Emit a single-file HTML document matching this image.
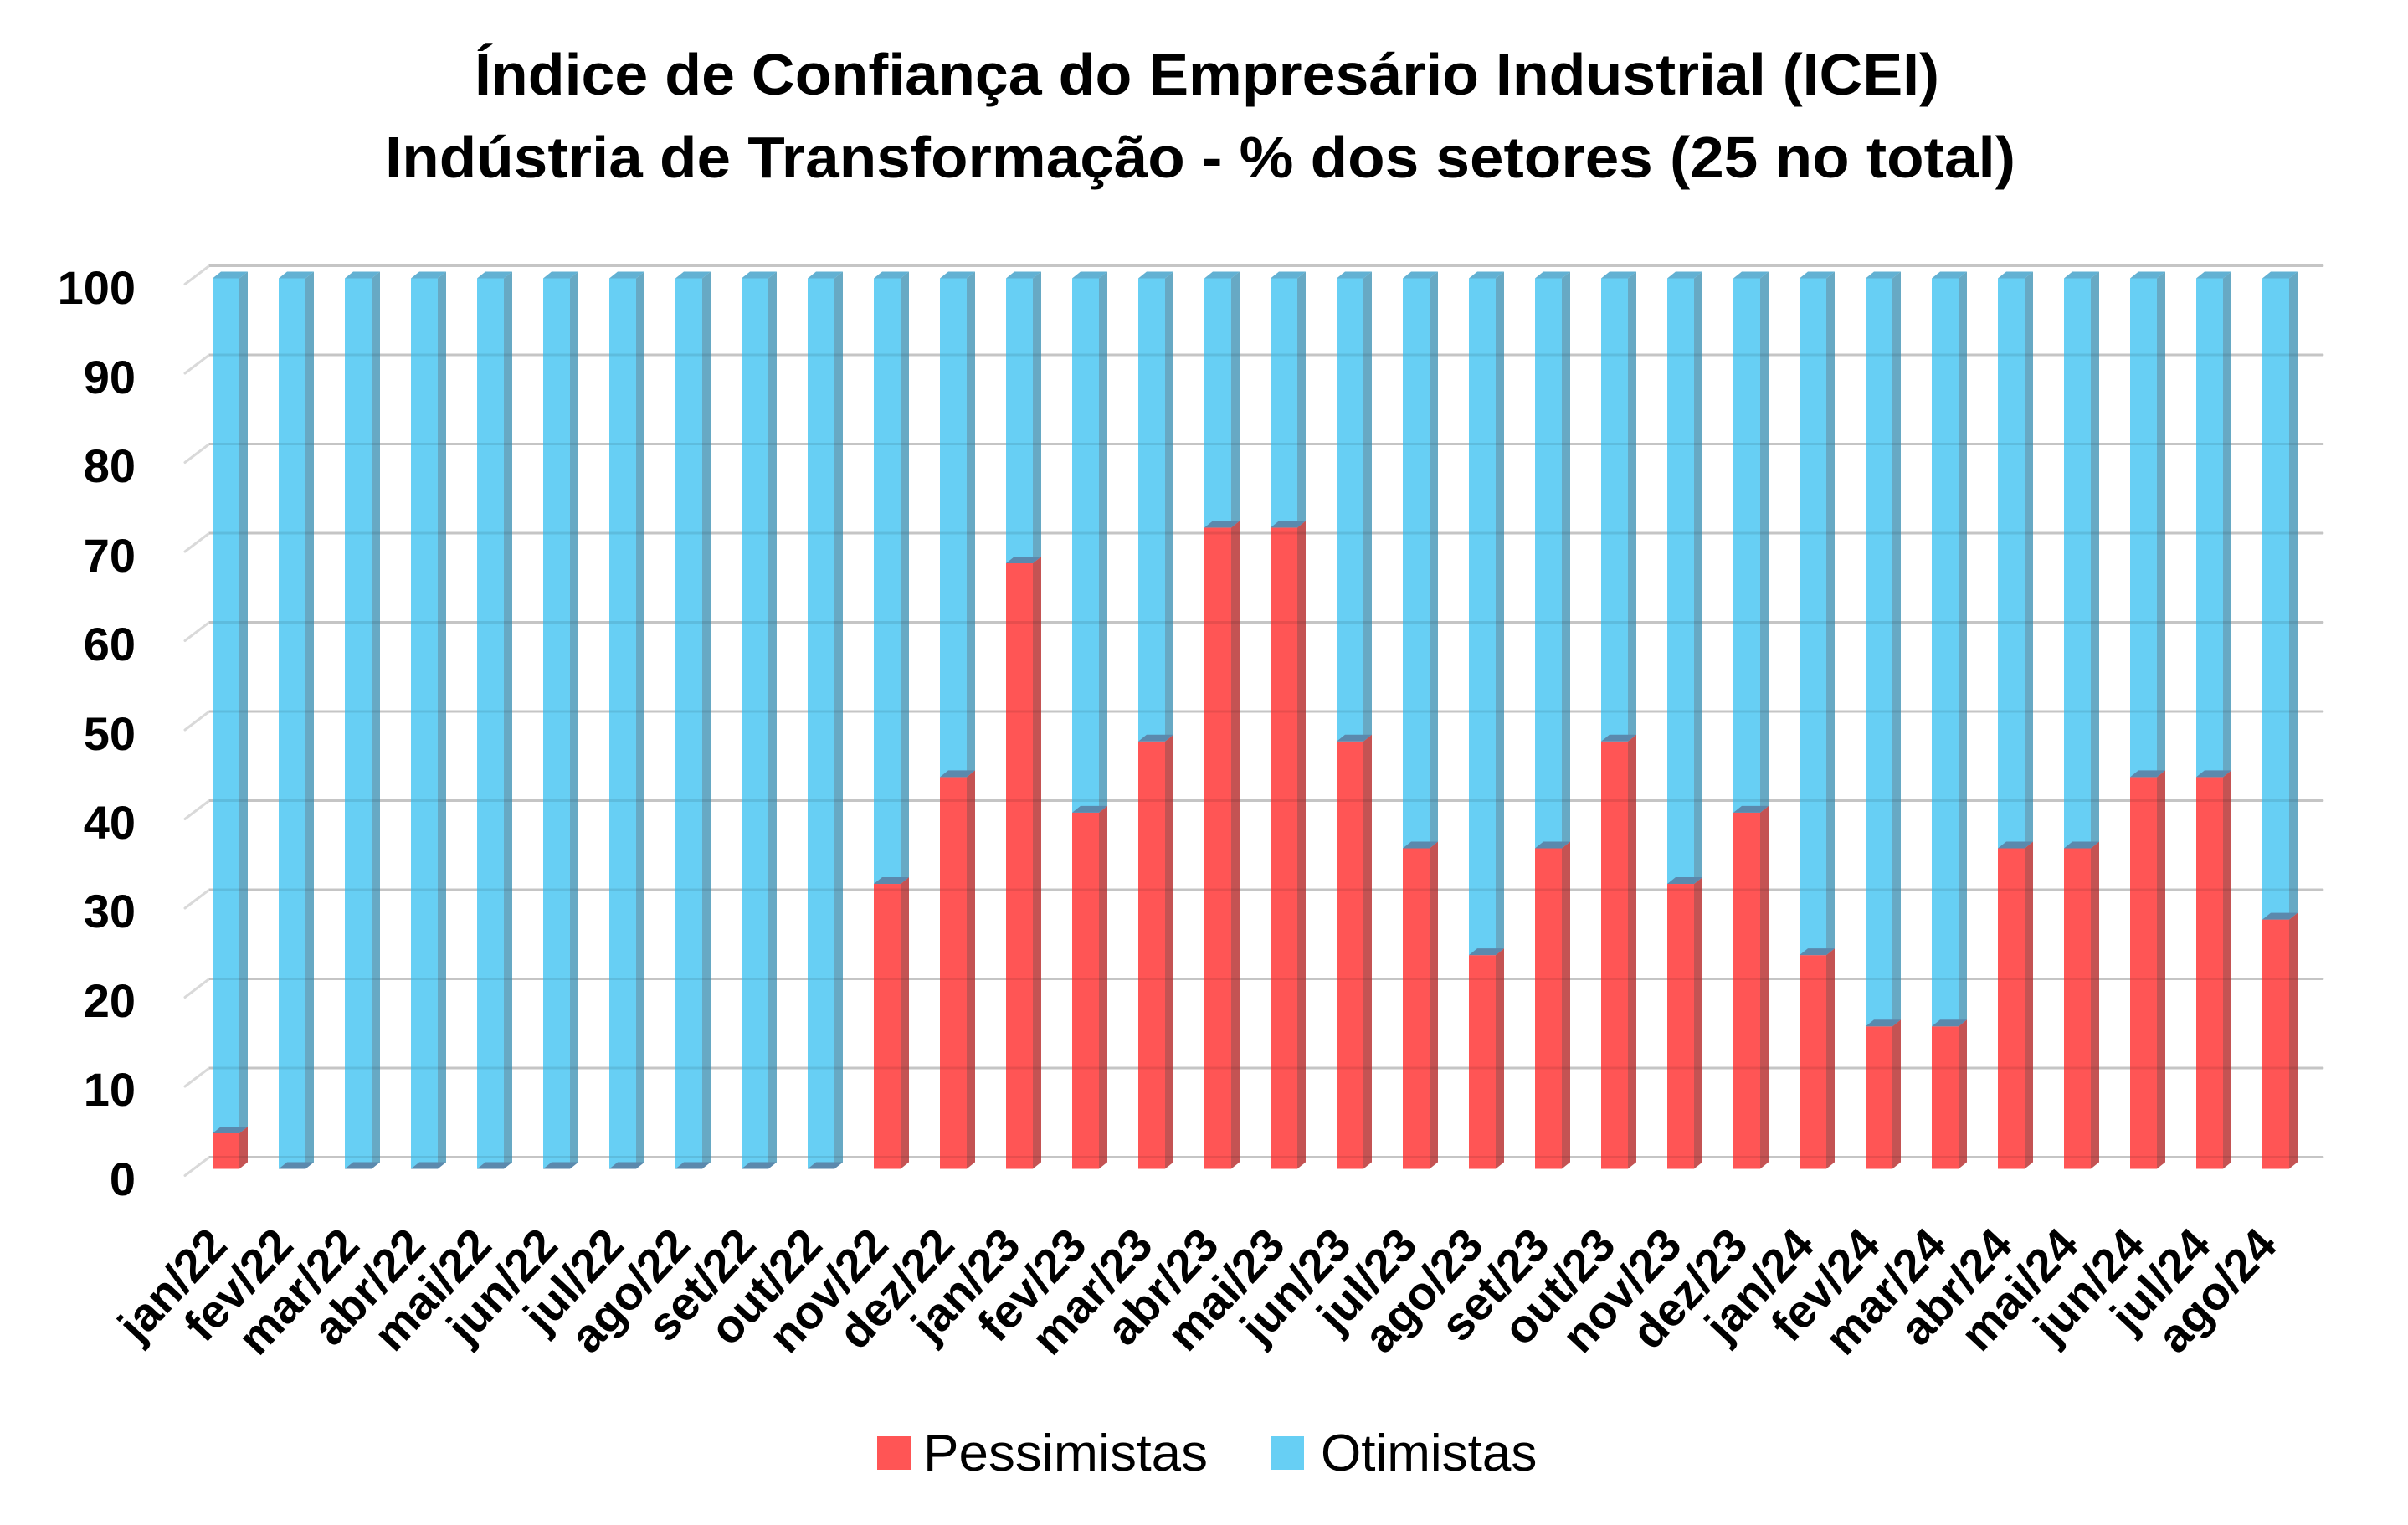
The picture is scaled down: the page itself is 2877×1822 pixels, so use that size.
<!DOCTYPE html>
<html><head><meta charset="utf-8"><style>
html,body{margin:0;padding:0;background:#fff;}
svg{display:block;}
text{font-family:"Liberation Sans",sans-serif;fill:#000;}
</style></head><body>
<svg id="s" width="2877" height="1822" viewBox="0 0 2877 1822" xmlns="http://www.w3.org/2000/svg">
<rect width="2877" height="1822" fill="#fff"/>
<text x="1442" y="113" font-size="70" font-weight="bold" text-anchor="middle" textLength="1750" lengthAdjust="spacingAndGlyphs">Índice de Confiança do Empresário Industrial (ICEI)</text>
<text x="1434" y="212" font-size="70" font-weight="bold" text-anchor="middle" textLength="1948" lengthAdjust="spacingAndGlyphs">Indústria de Transformação - % dos setores (25 no total)</text>
<g id="grid"></g>
<g id="bars"></g>
<g id="grid2"></g>
<g font-size="56" font-weight="bold" text-anchor="end">
<text x="162" y="363">100</text>
<text x="162" y="470">90</text>
<text x="162" y="576">80</text>
<text x="162" y="683">70</text>
<text x="162" y="789">60</text>
<text x="162" y="896">50</text>
<text x="162" y="1002">40</text>
<text x="162" y="1108">30</text>
<text x="162" y="1215">20</text>
<text x="162" y="1321">10</text>
<text x="162" y="1428">0</text>
</g>
<g font-size="56" font-weight="bold" text-anchor="end">
<text transform="translate(274,1490) rotate(-47)">jan/22</text>
<text transform="translate(353,1490) rotate(-47)">fev/22</text>
<text transform="translate(432,1490) rotate(-47)">mar/22</text>
<text transform="translate(511,1490) rotate(-47)">abr/22</text>
<text transform="translate(590,1490) rotate(-47)">mai/22</text>
<text transform="translate(669,1490) rotate(-47)">jun/22</text>
<text transform="translate(748,1490) rotate(-47)">jul/22</text>
<text transform="translate(827,1490) rotate(-47)">ago/22</text>
<text transform="translate(906,1490) rotate(-47)">set/22</text>
<text transform="translate(985,1490) rotate(-47)">out/22</text>
<text transform="translate(1064,1490) rotate(-47)">nov/22</text>
<text transform="translate(1143,1490) rotate(-47)">dez/22</text>
<text transform="translate(1222,1490) rotate(-47)">jan/23</text>
<text transform="translate(1301,1490) rotate(-47)">fev/23</text>
<text transform="translate(1380,1490) rotate(-47)">mar/23</text>
<text transform="translate(1459,1490) rotate(-47)">abr/23</text>
<text transform="translate(1538,1490) rotate(-47)">mai/23</text>
<text transform="translate(1617,1490) rotate(-47)">jun/23</text>
<text transform="translate(1696,1490) rotate(-47)">jul/23</text>
<text transform="translate(1775,1490) rotate(-47)">ago/23</text>
<text transform="translate(1854,1490) rotate(-47)">set/23</text>
<text transform="translate(1933,1490) rotate(-47)">out/23</text>
<text transform="translate(2012,1490) rotate(-47)">nov/23</text>
<text transform="translate(2091,1490) rotate(-47)">dez/23</text>
<text transform="translate(2170,1490) rotate(-47)">jan/24</text>
<text transform="translate(2249,1490) rotate(-47)">fev/24</text>
<text transform="translate(2328,1490) rotate(-47)">mar/24</text>
<text transform="translate(2407,1490) rotate(-47)">abr/24</text>
<text transform="translate(2486,1490) rotate(-47)">mai/24</text>
<text transform="translate(2565,1490) rotate(-47)">jun/24</text>
<text transform="translate(2644,1490) rotate(-47)">jul/24</text>
<text transform="translate(2723,1490) rotate(-47)">ago/24</text>
</g>
<rect x="1048" y="1716" width="40" height="40" fill="#FF5555"/>
<text x="1103" y="1757" font-size="62" textLength="340" lengthAdjust="spacingAndGlyphs">Pessimistas</text>
<rect x="1518" y="1716" width="40" height="40" fill="#67CFF4"/>
<text x="1578" y="1757" font-size="62">Otimistas</text>
</svg>
<script>
(function(){
var NS="http://www.w3.org/2000/svg";
function el(p,t,a){var e=document.createElementNS(NS,t);for(var k in a)e.setAttribute(k,a[k]);p.appendChild(e);return e;}
var g=document.getElementById('grid'),g2=document.getElementById('grid2'),b=document.getElementById('bars');
for(var v=0;v<=100;v+=10){
 var y=1382.5-v*10.65;
 el(g,'polyline',{points:'221,'+(y+22)+' 250,'+y+' 2775,'+y,fill:'none',stroke:'#d9d9d9','stroke-width':3,'stroke-linecap':'round'});
 el(g2,'line',{x1:250,y1:y,x2:2775,y2:y,stroke:'#000','stroke-opacity':0.09,'stroke-width':3});
}
var P=[4,0,0,0,0,0,0,0,0,0,32,44,68,40,48,72,72,48,36,24,36,48,32,40,24,16,16,36,36,44,44,28];
var bot=1396.5,k=10.64,W=32,dx=10,dy=8;
for(var i=0;i<P.length;i++){
 var x=254+79*i, yr=bot-P[i]*k, yt=bot-100*k;
 el(b,'rect',{x:x,y:yt,width:W,height:yr-yt,fill:'#67CFF4'});
 el(b,'polygon',{points:(x+W)+','+yt+' '+(x+W+dx)+','+(yt-dy)+' '+(x+W+dx)+','+(yr-dy)+' '+(x+W)+','+yr,fill:'#67A9C4'});
 el(b,'polygon',{points:x+','+yt+' '+(x+dx)+','+(yt-dy)+' '+(x+W+dx)+','+(yt-dy)+' '+(x+W)+','+yt,fill:'#62B1D3'});
 if(P[i]>0){
  el(b,'rect',{x:x,y:yr,width:W,height:bot-yr,fill:'#FF5555'});
  el(b,'polygon',{points:(x+W)+','+yr+' '+(x+W+dx)+','+(yr-dy)+' '+(x+W+dx)+','+(bot-dy)+' '+(x+W)+','+bot,fill:'#C45353'});
 }
 el(b,'polygon',{points:x+','+yr+' '+(x+dx)+','+(yr-dy)+' '+(x+W+dx)+','+(yr-dy)+' '+(x+W)+','+yr,fill:'#5B89AD'});
}
})();
</script>
</body></html>
